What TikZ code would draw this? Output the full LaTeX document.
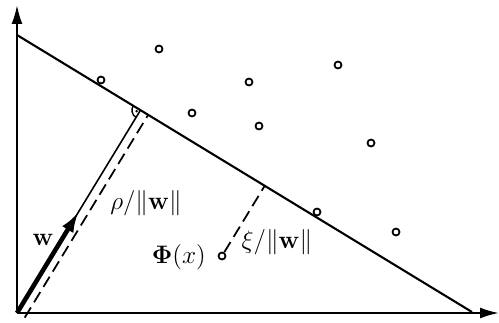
\documentclass[tikz,border=0pt]{standalone}
\usepackage{amsmath,amssymb}
\usepackage{tikz}
\usetikzlibrary{arrows.meta, calc}

\begin{document}
\begin{tikzpicture}[
  x=0.02cm, y=0.02cm,
  font=\Large,
  axis/.style={line width=1.2pt, -{Latex[length=0.38cm, width=0.22cm]}},
  plane/.style={line width=1.2pt},
  pt/.style={circle, draw, line width=1pt, inner sep=0pt, minimum size=0.14cm},
  dsh/.style={line width=1pt, dash pattern=on 0.24cm off 0.12cm},
  warr/.style={line width=2.6pt, -{Latex[length=0.42cm, width=0.26cm]}},
]
\useasboundingbox (0,0) rectangle (499,322);

% axes
\coordinate (o) at (17,9);
\coordinate (ytop) at (17,317);
\coordinate (xend) at (499,9);
\draw[axis] (o) -- (ytop);
\draw[axis] (o) -- (xend);

% separating hyperplane
\coordinate (h1) at (17,287);
\coordinate (h2) at (472,10);
\draw[plane] (h1) -- (h2);

% points
\node[pt] (p1) at (101,242) {};
\node[pt] (p2) at (159,273) {};
\node[pt] (p3) at (192,209) {};
\node[pt] (p4) at (249,240) {};
\node[pt] (p5) at (259,196) {};
\node[pt] (p6) at (338,257) {};
\node[pt] (p7) at (371,179) {};
\node[pt] (p8) at (317,110) {};
\node[pt] (p9) at (396,90) {};
\node[pt] (phi) at (222,66) {};

% normal and margin
\coordinate (ft) at ($(h1)!(o)!(h2)$);
\draw[line width=0.9pt] (o) -- (ft);
\draw[warr] (o) -- ($(o)!0.5!(ft)$) coordinate (wend);
\coordinate (m1) at ($(o)!0.18cm!-90:(ft)$);
\coordinate (m2) at ($(ft)!0.18cm!90:(o)$);
\draw[dsh] (m1) -- (m2);

% right angle mark
\draw[line width=0.8pt] ($(ft)!0.17cm!(h1)$) arc[start angle=148.6, end angle=238.6, radius=0.17cm];
\fill ($(ft)+(193.6:0.08cm)$) circle (0.8pt);

% slack of Phi(x)
\coordinate (pf) at ($(h1)!(phi)!(h2)$);
\draw[dsh] (phi) -- (pf);

% labels
\node (wl) at (43,82) {$\mathbf{w}$};
\node (rho) at (146,119) {$\rho/\|\mathbf{w}\|$};
\node (xi) at (277,80) {$\xi/\|\mathbf{w}\|$};
\node[anchor=east] (phil) at (212,65) {$\mathbf{\Phi}(x)$};

\end{tikzpicture}
\end{document}
